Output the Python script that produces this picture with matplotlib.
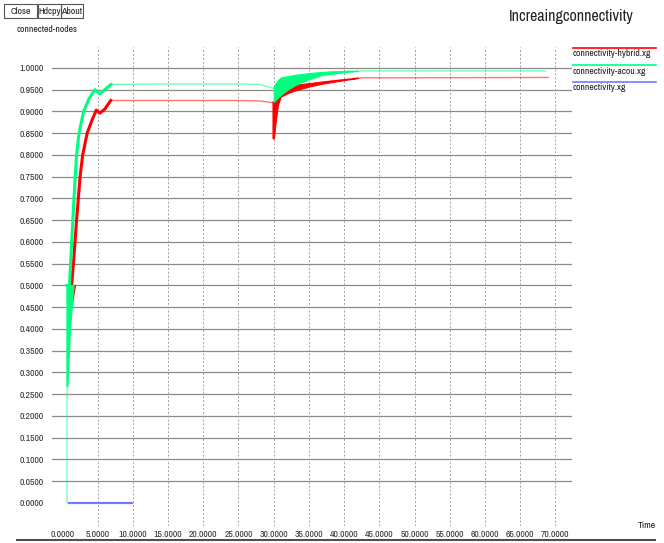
import matplotlib
matplotlib.use("Agg")
import matplotlib.pyplot as plt
from matplotlib.lines import Line2D
from matplotlib.patches import Rectangle

plt.rcParams['font.family'] = ['Archivo Narrow', 'DejaVu Sans']

RED = "#ff0000"
GREEN = "#00ff80"
BLUE = "#7878ff"
TEXT = "#222222"

# tick positions
x_ticks = [0, 5, 10, 15, 20, 25, 30, 35, 40, 45, 50, 55, 60, 65, 70]
y_ticks = [i * 0.05 for i in range(21)]

# connectivity-hybrid.xg
red_t = [1.3, 1.55, 1.78, 2.0, 2.25, 2.5, 2.87, 3.5, 4.2, 4.8, 5.3, 6.0, 6.85,
         15.0, 25.0, 28.0, 30.0, 30.0, 30.4, 31.0, 33.0, 35.0, 38.0, 42.0, 69.0]
red_v = [0.5, 0.55, 0.6, 0.65, 0.7, 0.75, 0.8, 0.85, 0.88, 0.903, 0.896, 0.905, 0.925,
         0.925, 0.925, 0.924, 0.92, 0.838, 0.91, 0.945, 0.955, 0.96, 0.969, 0.977, 0.978]
red_start_t = [1.05, 1.25, 1.7]
red_start_lo = [0.5, 0.455, 0.5]
red_start_hi = [0.5, 0.5, 0.5]
red_band_t = [30.0, 30.3, 30.6, 31.0, 32.0, 33.0, 35.0, 37.0, 40.0, 42.0]
red_band_hi = [0.922, 0.94, 0.95, 0.954, 0.958, 0.961, 0.965, 0.969, 0.974, 0.977]
red_band_lo = [0.84, 0.88, 0.915, 0.934, 0.942, 0.948, 0.957, 0.964, 0.972, 0.977]

# connectivity-acou.xg
green_t = [0.65, 0.65, 1.0, 1.3, 1.63, 2.0, 2.35, 3.0, 3.8, 4.6, 5.3, 6.0, 6.9,
           15.0, 25.0, 28.0, 30.0, 31.0, 33.0, 35.0, 38.0, 42.0, 68.6]
green_v = [0.0, 0.5, 0.5, 0.6, 0.7, 0.8, 0.85, 0.9, 0.93, 0.95, 0.94, 0.95, 0.962,
           0.963, 0.963, 0.962, 0.953, 0.96, 0.973, 0.983, 0.99, 0.993, 0.993]
green_start_t = [0.65, 1.0, 1.5]
green_start_lo = [0.27, 0.4, 0.5]
green_start_hi = [0.5, 0.5, 0.5]
green_band_t = [30.0, 30.5, 31.0, 32.0, 33.0, 35.0, 37.0, 40.0, 42.0]
green_band_hi = [0.958, 0.97, 0.978, 0.981, 0.984, 0.988, 0.991, 0.993, 0.993]
green_band_lo = [0.922, 0.93, 0.938, 0.95, 0.96, 0.974, 0.984, 0.99, 0.993]

# connectivity.xg
blue_t = [0.9, 9.9]
blue_v = [0.0, 0.0]

legend_names = ["connectivity-hybrid.xg", "connectivity-acou.xg", "connectivity.xg"]
legend_colors = [RED, GREEN, BLUE]

W, H = 664, 543
fig = plt.figure(figsize=(W / 100, H / 100), dpi=100)
fig.patch.set_facecolor("white")


def fx(px):
    return px / W


def fy(py):
    return 1 - py / H


ax = fig.add_axes([fx(52), fy(526), fx(572) - fx(52), fy(47) - fy(526)])
ax.set_xlim(-1.49, 72.37)
ax.set_ylim(-0.0529, 1.048)
for s in ax.spines.values():
    s.set_visible(False)

# grid: the zero lines are not drawn
for v in y_ticks[1:]:
    ax.axhline(v, color="#8a8a8a", lw=0.9, zorder=1)
for t in x_ticks[1:]:
    ax.axvline(t, color="#a0a0a0", lw=0.7, ls=(0, (2, 2)), zorder=1)

ax.set_xticks(x_ticks)
ax.set_xticklabels([f"{t:.4f}" for t in x_ticks])
ax.set_yticks(y_ticks)
ax.set_yticklabels([f"{v:.4f}" for v in y_ticks])
ax.tick_params(length=0, labelsize=7, colors="#333333")
ax.tick_params(axis="y", pad=6)
ax.tick_params(axis="x", pad=3)

# hybrid
n_rise = 13
ax.plot(red_t, red_v, color=RED, lw=1.0, alpha=0.55, zorder=3)
ax.plot(red_t[:n_rise], red_v[:n_rise], color=RED, lw=2.2, zorder=3)
ax.plot(red_t[16:20], red_v[16:20], color=RED, lw=1.8, zorder=3)
ax.fill_between(red_start_t, red_start_lo, red_start_hi, color=RED, lw=1.5, ec=RED, zorder=3)
ax.fill_between(red_band_t, red_band_lo, red_band_hi, color=RED, lw=0.8, ec=RED, zorder=3)

# acou
ax.plot(green_t, green_v, color=GREEN, lw=1.0, alpha=0.55, zorder=4)
ax.plot(green_t[1:n_rise], green_v[1:n_rise], color=GREEN, lw=2.2, zorder=4)
ax.fill_between(green_start_t, green_start_lo, green_start_hi, color=GREEN, lw=1.5, ec=GREEN, zorder=4)
ax.fill_between(green_band_t, green_band_lo, green_band_hi, color=GREEN, lw=0.8, ec=GREEN, zorder=4)

# plain
ax.plot(blue_t, blue_v, color=BLUE, lw=1.6, zorder=4)

# legend
for i, (name, c) in enumerate(zip(legend_names, legend_colors)):
    ly = 48 + 17 * i
    fig.add_artist(Line2D([fx(573), fx(656)], [fy(ly), fy(ly)], color=c, lw=1.2))
    fig.text(fx(573), fy(ly + 6), name, fontsize=7, va="center", ha="left", color=TEXT)

# title and axis names
fig.text(fx(571), fy(17), "Increaingconnectivity", fontsize=11.5, ha="center", va="center", color=TEXT)
fig.text(fx(17), fy(30), "connected-nodes", fontsize=7, ha="left", va="center", color=TEXT)
fig.text(fx(647), fy(526), "Time", fontsize=7, ha="center", va="center", color=TEXT)

# buttons
for label, x0, x1 in [("Close", 4, 37), ("Hdcpy", 38, 61), ("About", 61, 83)]:
    fig.add_artist(Rectangle((fx(x0), fy(18)), fx(x1) - fx(x0), fy(4) - fy(18),
                             fill=False, ec="#555555", lw=0.8))
    fig.text(fx((x0 + x1) / 2), fy(11), label, fontsize=7, ha="center", va="center", color=TEXT)

# window border at the bottom
fig.add_artist(Line2D([fx(17), fx(655)], [fy(540), fy(540)], color="#505050", lw=1.5))

fig.savefig("out.png", dpi=100)
